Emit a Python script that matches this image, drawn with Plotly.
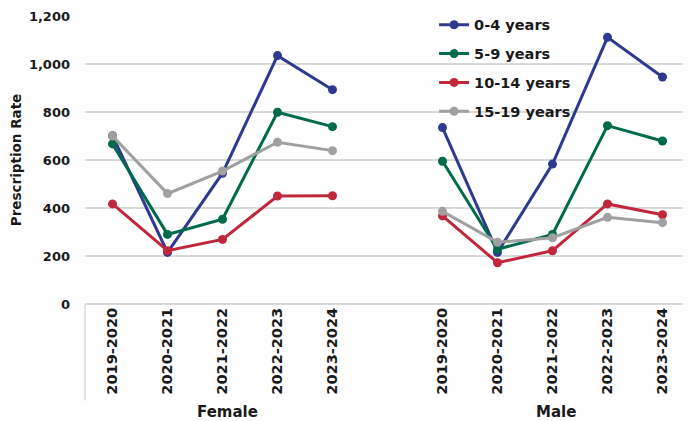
import plotly.graph_objects as go

years = ["2019-2020", "2020-2021", "2021-2022", "2022-2023", "2023-2024"]
groups = ["Female", "Male"]
series_names = ["0-4 years", "5-9 years", "10-14 years", "15-19 years"]
female = {
    "0-4 years": [701, 215, 545, 1035, 893],
    "5-9 years": [667, 290, 353, 799, 739],
    "10-14 years": [417, 222, 269, 450, 451],
    "15-19 years": [700, 460, 554, 674, 639],
}
male = {
    "0-4 years": [735, 215, 583, 1111, 946],
    "5-9 years": [595, 228, 290, 743, 679],
    "10-14 years": [367, 172, 222, 417, 372],
    "15-19 years": [386, 257, 276, 361, 339],
}
colors = ["#2E3A8F", "#006B4C", "#C1273B", "#A0A0A0"]
y_ticks = [0, 200, 400, 600, 800, 1000, 1200]

FONT = "DejaVu Sans"
f_keys = ["F " + y for y in years]
m_keys = ["M " + y for y in years]
gap_key = "gap"
x_keys = f_keys + [gap_key] + m_keys
tick_text = years + [""] + years

fig = go.Figure()
for name, col in zip(series_names, colors):
    yv = female[name] + [None] + male[name]
    fig.add_trace(go.Scatter(
        x=x_keys, y=yv, name=name, mode="lines+markers",
        line=dict(color=col, width=3), marker=dict(color=col, size=9),
        connectgaps=False, legendgroup=name,
    ))

# page body has an 8px default margin; compensate
fig.update_layout(
    width=683, height=413,
    margin=dict(l=77, r=1, t=8, b=117),
    paper_bgcolor="white", plot_bgcolor="white",
    font=dict(family=FONT, size=14, color="#1a1a1a", weight="bold"),
    showlegend=True,
    legend=dict(x=0.577, y=1.025, xanchor="left", yanchor="top",
                bgcolor="rgba(0,0,0,0)", font=dict(size=14.5, weight="bold"),
                tracegroupgap=7, traceorder="grouped", itemwidth=30),
    xaxis=dict(type="category", categoryorder="array", categoryarray=x_keys,
               tickmode="array", tickvals=x_keys, ticktext=tick_text,
               tickangle=-90, showgrid=False, showline=False, zeroline=False,
               automargin=False,
               tickfont=dict(size=14.5, weight="bold"), range=[-0.5, 10.5]),
    yaxis=dict(range=[0, 1200], tickvals=y_ticks, tickformat=",d",
               gridcolor="#d9d9d9", gridwidth=1.5, zeroline=True,
               zerolinecolor="#d9d9d9", zerolinewidth=1.5,
               showline=False, ticklabelstandoff=14, automargin=False,
               tickfont=dict(size=13, weight="bold"),
               title=dict(text="Prescription Rate", standoff=5,
                          font=dict(size=13.5, weight="bold"))),
)

fig.add_shape(type="line", xref="paper", yref="paper", x0=0, x1=0,
              y0=0, y1=-0.335, line=dict(color="#d9d9d9", width=1.5))
fig.add_annotation(x=f_keys[2], y=-0.375, xref="x", yref="paper",
                   yanchor="middle", xshift=5,
                   text="Female", showarrow=False,
                   font=dict(size=15, weight="bold"))
fig.add_annotation(x=m_keys[2], y=-0.375, xref="x", yref="paper",
                   yanchor="middle", xshift=3,
                   text="Male", showarrow=False,
                   font=dict(size=15, weight="bold"))

fig.write_html("out.html")
